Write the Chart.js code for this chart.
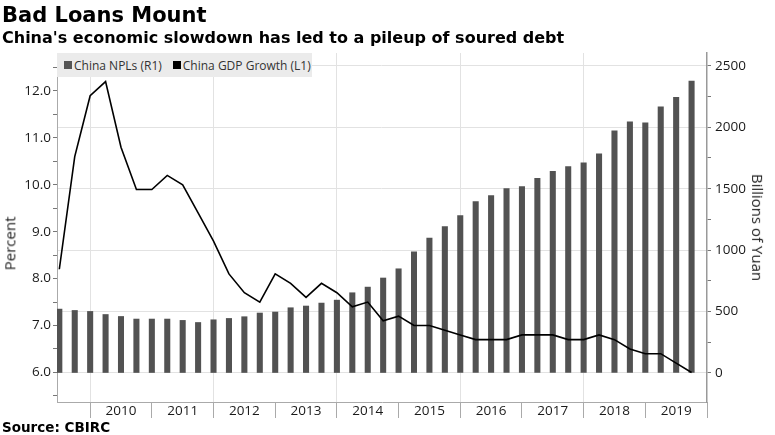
<!DOCTYPE html>
<html>
<head>
<meta charset="utf-8">
<script src="https://cdn.jsdelivr.net/npm/chart.js@4.4.1/dist/chart.umd.min.js"></script>
<style>
  html, body { margin: 0; padding: 0; background: #fff; }
  #wrap { position: relative; width: 775px; height: 435px; overflow: hidden; }
  #wrap canvas { position: absolute; left: 0; top: 0; }
  .hd { position: absolute; left: 2px; font-family: "DejaVu Sans", sans-serif; font-weight: bold; line-height: 1; color: #000; white-space: nowrap; }
  .axt { position: absolute; font-family: "Open Sans", sans-serif; font-size: 15px; line-height: 1; color: #222; white-space: nowrap; }
  #legend { position: absolute; left: 57px; top: 53px; width: 255px; height: 24px; background: #ebebeb;
            display: flex; align-items: center; font-family: "Open Sans", sans-serif; font-size: 12px; color: #333; }
  #legend span.sw { display: inline-block; width: 8px; height: 8px; margin: 0 2px 0 7px; }
</style>
</head>
<body>
<div id="wrap">
  <canvas id="chart"></canvas>
  <div class="hd" style="top:5.2px;font-size:21px">Bad Loans Mount</div>
  <div class="hd" style="top:29.8px;font-size:16px">China's economic slowdown has led to a pileup of soured debt</div>
  <div class="hd" style="top:421.2px;font-size:13.5px">Source: CBIRC</div>
  <div class="axt" id="tl">Percent</div>
  <div class="axt" id="tr">Billions of Yuan</div>
  <div id="legend">
    <span class="sw" style="background:#555"></span>China NPLs (R1)
    <span class="sw" style="background:#000;margin-left:11px"></span>China GDP Growth (L1)
  </div>
</div>
<script>
// quarterly, 2009 Q2 .. 2019 Q3
const quarters = [
  "2009Q2","2009Q3","2009Q4",
  "2010Q1","2010Q2","2010Q3","2010Q4",
  "2011Q1","2011Q2","2011Q3","2011Q4",
  "2012Q1","2012Q2","2012Q3","2012Q4",
  "2013Q1","2013Q2","2013Q3","2013Q4",
  "2014Q1","2014Q2","2014Q3","2014Q4",
  "2015Q1","2015Q2","2015Q3","2015Q4",
  "2016Q1","2016Q2","2016Q3","2016Q4",
  "2017Q1","2017Q2","2017Q3","2017Q4",
  "2018Q1","2018Q2","2018Q3","2018Q4",
  "2019Q1","2019Q2","2019Q3"
]

// China NPLs, billions of yuan (right axis)
const npl = [
  520, 509, 501,
  476, 460, 439, 439,
  439, 428, 411, 433,
  444, 458, 488, 496,
  531, 545, 569, 593,
  653, 699, 773, 848,
  986, 1098, 1192, 1281,
  1395, 1444, 1501, 1517,
  1585, 1642, 1680, 1710,
  1783, 1970, 2043, 2035,
  2165, 2244, 2376
]

// China GDP growth, percent y/y (left axis)
const gdp = [
  8.2, 10.6, 11.9,
  12.2, 10.8, 9.9, 9.9,
  10.2, 10.0, 9.4, 8.8,
  8.1, 7.7, 7.5, 8.1,
  7.9, 7.6, 7.9, 7.7,
  7.4, 7.5, 7.1, 7.2,
  7.0, 7.0, 6.9, 6.8,
  6.7, 6.7, 6.7, 6.8,
  6.8, 6.8, 6.7, 6.7,
  6.8, 6.7, 6.5, 6.4,
  6.4, 6.2, 6.0
]

const years = ["2010","2011","2012","2013","2014","2015","2016","2017","2018","2019"]
const leftTicks = [5.5, 6, 6.5, 7, 7.5, 8, 8.5, 9, 9.5, 10, 10.5, 11, 11.5, 12, 12.5]
const rightTicks = [0, 250, 500, 750, 1000, 1250, 1500, 1750, 2000, 2250, 2500]

// year i starts at the Q4 of the previous year -> index 2 + 4*i
const yearStart = (i) => 2 + 4 * i
const yearMid = (i) => 4 + 4 * i

const tickFont = { family: "Open Sans", size: 13.5 }
const canvas = document.getElementById("chart")
canvas.style.width = "775px"
canvas.style.height = "435px"

const chart = new Chart(canvas.getContext("2d"), {
  data: {
    datasets: [
      {
        type: "line",
        label: "China GDP Growth (L1)",
        data: gdp.map((v, i) => ({ x: i, y: v })),
        yAxisID: "yL",
        borderColor: "#000",
        borderWidth: 1.6,
        pointRadius: 0,
        tension: 0,
        order: 0,
      },
      {
        type: "bar",
        label: "China NPLs (R1)",
        data: npl.map((v, i) => ({ x: i, y: v })),
        yAxisID: "yR",
        backgroundColor: "#525252",
        barThickness: 5.4,
        order: 1,
      },
    ],
  },
  options: {
    responsive: true,
    maintainAspectRatio: false,
    animation: false,
    layout: { padding: { top: 53, left: 0, right: 0, bottom: 0 } },
    plugins: {
      legend: { display: false },
      tooltip: { enabled: false },
    },
    scales: {
      x: {
        type: "linear",
        min: -0.15,
        max: 42,
        offset: false,
        afterFit: (s) => { s.height = 33 },
        afterBuildTicks: (s) => {
          const t = []
          for (let i = 0; i < years.length; i++) {
            t.push({ value: yearStart(i) })
            t.push({ value: yearMid(i) })
          }
          t.push({ value: yearStart(years.length) })
          s.ticks = t
        },
        ticks: {
          autoSkip: false,
          maxRotation: 0,
          padding: -15,
          color: "#1a1a1a",
          font: tickFont,
          callback: (v) => {
            const k = (v - 4) / 4
            return Number.isInteger(k) && years[k] ? years[k] : ""
          },
        },
        grid: {
          offset: false,
          tickLength: 16,
          color: (c) => {
            const v = c.tick ? c.tick.value : null
            return v !== null && (v - 2) % 8 === 0 && v < 42 ? "#e2e2e2" : "rgba(0,0,0,0)"
          },
          tickColor: (c) => {
            const v = c.tick ? c.tick.value : null
            return v !== null && (v - 2) % 4 === 0 ? "#aaa" : "rgba(0,0,0,0)"
          },
        },
        border: { color: "#aaa", width: 1 },
      },
      yL: {
        type: "linear",
        position: "left",
        min: 5.37,
        max: 12.81,
        afterFit: (s) => { s.width = 57 },
        afterBuildTicks: (s) => { s.ticks = leftTicks.map((v) => ({ value: v })) },
        ticks: {
          padding: 2,
          color: "#1a1a1a",
          font: tickFont,
          callback: (v) => (Number.isInteger(v) ? v.toFixed(1) : ""),
        },
        grid: { drawOnChartArea: false, tickLength: 4, tickColor: "#777" },
        border: { color: "#aaa", width: 1 },
      },
      yR: {
        type: "linear",
        position: "right",
        min: -236,
        max: 2604,
        afterFit: (s) => { s.width = 68 },
        afterBuildTicks: (s) => { s.ticks = rightTicks.map((v) => ({ value: v })) },
        ticks: {
          padding: 4,
          color: "#1a1a1a",
          font: tickFont,
          callback: (v) => (v % 500 === 0 ? String(v) : ""),
        },
        grid: {
          tickLength: 4,
          tickColor: "#777",
          color: (c) => (c.tick && c.tick.value % 500 === 0 ? "#e2e2e2" : "rgba(0,0,0,0)"),
        },
        border: { color: "#999", width: 1.5 },
      },
    },
  },
})

// axis titles, centred on their measured spots
function placeTitle(id, cx, cy, deg) {
  const el = document.getElementById(id)
  const w = el.offsetWidth, h = el.offsetHeight
  el.style.left = (cx - w / 2) + "px"
  el.style.top = (cy - h / 2) + "px"
  el.style.transform = "rotate(" + deg + "deg)"
}
placeTitle("tl", 10, 243, -90)
placeTitle("tr", 757, 227, 90)
</script>
</body>
</html>
